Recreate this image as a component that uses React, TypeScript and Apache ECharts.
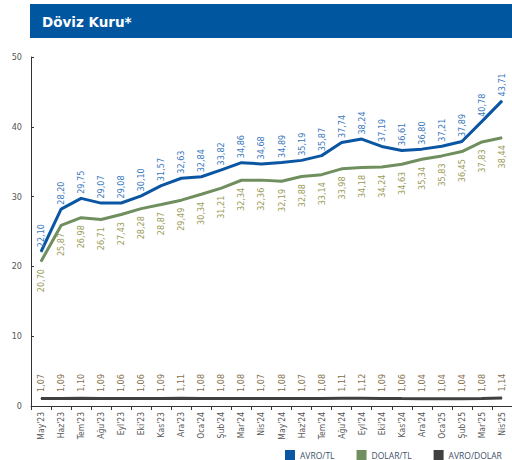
import React, { useEffect, useRef } from "react";
import * as echarts from "echarts";

const categories = [
  "May'23", "Haz'23", "Tem'23", "Ağu'23", "Eyl'23", "Eki'23", "Kas'23", "Ara'23",
  "Oca'24", "Şub'24", "Mar'24", "Nis'24", "May'24", "Haz'24", "Tem'24", "Ağu'24",
  "Eyl'24", "Eki'24", "Kas'24", "Ara'24", "Oca'25", "Şub'25", "Mar'25", "Nis'25",
];
const avroTL = [
  22.10, 28.20, 29.75, 29.07, 29.08, 30.10, 31.57, 32.63, 32.84, 33.82, 34.86, 34.68,
  34.89, 35.19, 35.87, 37.74, 38.24, 37.19, 36.61, 36.80, 37.21, 37.89, 40.78, 43.71,
];
const dolarTL = [
  20.70, 25.87, 26.98, 26.71, 27.43, 28.28, 28.87, 29.49, 30.34, 31.21, 32.34, 32.36,
  32.19, 32.88, 33.14, 33.98, 34.18, 34.24, 34.63, 35.34, 35.83, 36.45, 37.83, 38.44,
];
const avroDolar = [
  1.07, 1.09, 1.10, 1.09, 1.06, 1.06, 1.09, 1.11, 1.08, 1.08, 1.08, 1.07,
  1.08, 1.07, 1.08, 1.11, 1.12, 1.09, 1.06, 1.04, 1.04, 1.04, 1.08, 1.14,
];
const seriesNames = ["AVRO/TL", "DOLAR/TL", "AVRO/DOLAR"];
const title = "Döviz Kuru*";

const narrow = "'Liberation Sans Narrow', 'DejaVu Sans Condensed', 'Roboto', sans-serif";
const fmt = (p: any) => Number(p.value).toFixed(2).replace(".", ",");

export default function App() {
  const ref = useRef<HTMLDivElement>(null);
  useEffect(() => {
    if (!ref.current) return;
    const chart = echarts.init(ref.current, null, { renderer: "svg" });
    const mk = (name: string, data: number[], color: string, label: any) => ({
      name,
      type: "line",
      data,
      symbol: "circle",
      symbolSize: 1,
      showSymbol: true,
      lineStyle: { color, width: 3 },
      itemStyle: { color },
      label: {
        show: true,
        rotate: 90,
        verticalAlign: "middle",
        formatter: fmt,
        fontSize: 9,
        fontFamily: narrow,
        ...label,
      },
      labelLayout: { hideOverlap: false },
    });
    chart.setOption({
      animation: false,
      backgroundColor: "#ffffff",
      graphic: [
        {
          type: "rect",
          shape: { x: 30, y: 4, width: 482, height: 34 },
          style: { fill: "#0057a0" },
        },
        {
          type: "text",
          x: 42,
          y: 22,
          style: {
            text: title,
            fill: "#ffffff",
            font: "bold 13.5px 'DejaVu Sans', sans-serif",
            textVerticalAlign: "middle",
          },
        },
      ],
      grid: { left: 31, right: 0, top: 57, bottom: 54, containLabel: false },
      legend: {
        left: 280,
        top: 445,
        itemWidth: 10,
        itemHeight: 10,
        itemGap: 22,
        icon: "rect",
        data: seriesNames,
        textStyle: { fontSize: 8.5, color: "#3d4f6a", fontFamily: "'Open Sans', sans-serif" },
      },
      xAxis: {
        type: "category",
        data: categories,
        boundaryGap: true,
        axisLine: { lineStyle: { color: "#333333", width: 1 } },
        axisTick: { show: true, length: 4, lineStyle: { color: "#333333" } },
        axisLabel: {
          rotate: 90,
          interval: 0,
          fontSize: 8.5,
          color: "#555555",
          fontFamily: narrow,
          margin: 6,
        },
        splitLine: { show: false },
      },
      yAxis: {
        type: "value",
        min: 0,
        max: 50,
        interval: 10,
        axisLine: { show: true, lineStyle: { color: "#333333", width: 1 } },
        axisTick: { show: true, inside: true, length: 3, lineStyle: { color: "#333333" } },
        axisLabel: { fontSize: 9, color: "#555555", fontFamily: narrow, margin: 9 },
        splitLine: { show: false },
      },
      series: [
        mk(seriesNames[0], avroTL, "#0b56a3", {
          position: "top",
          distance: 4,
          align: "left",
          color: "#3a78bd",
        }),
        mk(seriesNames[1], dolarTL, "#6f8f5f", {
          position: "bottom",
          distance: 7,
          align: "right",
          color: "#9a9c5a",
        }),
        mk(seriesNames[2], avroDolar, "#404040", {
          position: "top",
          distance: 6,
          align: "left",
          color: "#85704e",
        }),
      ],
    });
    return () => chart.dispose();
  }, []);
  return (
    <div
      ref={ref}
      style={{ position: "fixed", left: 0, top: 0, width: 512, height: 460 }}
    />
  );
}
